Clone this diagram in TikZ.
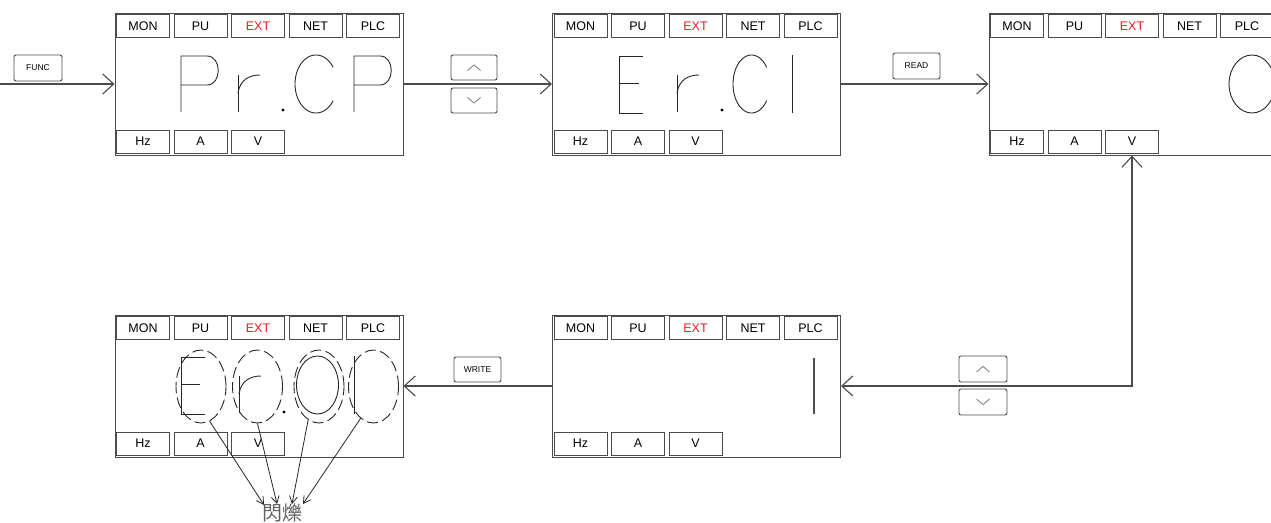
\documentclass[tikz,border=0pt]{standalone}
\usepackage{fontspec}
\setmainfont{Liberation Sans}
\newfontfamily\cjkfont{Noto Sans CJK TC}
\usetikzlibrary{arrows.meta,calc,shapes.geometric}
\definecolor{ln}{RGB}{75,75,75}
\definecolor{extred}{RGB}{237,28,36}
\definecolor{chev}{RGB}{120,120,120}
\definecolor{flashgray}{RGB}{95,95,95}
\tikzset{
  lcd/.style={draw=ln, line width=1pt, minimum width=288pt, minimum height=142pt, inner sep=0pt},
  modebtn/.style={draw=ln, line width=0.9pt, minimum width=53pt, minimum height=23pt, inner sep=0pt, font=\fontsize{12.5}{13}\selectfont},
  keybtn/.style={draw=ln, line width=0.9pt, rounded corners=2pt, minimum width=47pt, minimum height=25pt, inner sep=0pt, font=\fontsize{8.5}{9}\selectfont},
  upkey/.style={keybtn, path picture={\draw[chev, line width=0.8pt, sharp corners] ($(path picture bounding box.center)+(-6.5,3)$) -- ++(6.5,-5.5) -- ++(6.5,5.5);}},
  downkey/.style={keybtn, path picture={\draw[chev, line width=0.8pt, sharp corners] ($(path picture bounding box.center)+(-6.5,-3)$) -- ++(6.5,5.5) -- ++(6.5,-5.5);}},
  glyph/.style={draw=black!85, line width=0.9pt},
  flow/.style={draw=ln, line width=1.1pt},
  bigtip/.tip={Straight Barb[length=11pt,width=20pt]},
  smalltip/.tip={Straight Barb[length=7pt,width=8pt]},
  dashell/.style={ellipse, draw=black!85, line width=0.9pt, dash pattern=on 11pt off 4.5pt, minimum width=50pt, minimum height=73pt, inner sep=0pt},
  pointer/.style={draw=black!85, line width=0.8pt, -smalltip}
}
\newcommand\lcdbox[3]{%
  \node[lcd] (#1) at (#2,#3) {};
  \foreach \lab/\i/\col in {MON/0/black,PU/1/black,EXT/2/extred,NET/3/black,PLC/4/black}{
    \node[modebtn,text=\col] (#1-\lab) at ($(#1.north west)+(28.5+57.5*\i,13.5)$) {\lab};}
  \foreach \lab/\i in {Hz/0,A/1,V/2}{
    \node[modebtn] (#1-\lab) at ($(#1.south west)+(28.5+57.5*\i,-14)$) {\lab};}
}
\begin{document}
\begin{tikzpicture}[x=1pt,y=-1pt]
\useasboundingbox (0,0) rectangle (1271,522);
\clip (0,0) rectangle (1271,522);

% displays
\lcdbox{d1}{259}{84}
\lcdbox{d2}{696.5}{84}
\lcdbox{d3}{1133}{84}
\lcdbox{d4}{696.5}{386}
\lcdbox{d5}{259}{386}

% keys
\node[keybtn, minimum width=48pt, minimum height=26pt] (func) at (38,68) {FUNC};
\node[upkey, minimum width=46pt] (up1) at (474,67.5) {};
\node[downkey, minimum width=46pt] (down1) at (474,100.5) {};
\node[keybtn, minimum height=26pt] (read) at (916.5,66) {READ};
\node[keybtn] (write) at (477.5,369.5) {WRITE};
\node[upkey, minimum width=48pt, minimum height=26pt] (up2) at (983,369) {};
\node[downkey, minimum width=48pt, minimum height=26pt] (down2) at (983,402) {};

% connectors
\coordinate (in) at (0,84);
\draw[flow, -bigtip] (in) -- (d1.west);
\draw[flow, -bigtip] (d1.east) -- (d2.west);
\draw[flow, -bigtip] (d2.east) -- (d3.west);
\draw[flow, bigtip-bigtip] (d3-V |- d3.south) |- (d4.east);
\draw[flow, -bigtip] (d4.west) -- (d5.east);

% display 1: Pr.CP
\draw[glyph] (181,112) -- (181,56) -- (207,56) .. controls (222,56) and (222,85) .. (207,85) -- (181,85);
\draw[glyph] (238,112) -- (238,75);
\draw[glyph] (238,93) .. controls (240,80) and (249,75) .. (260,75);
\fill[black] (283,110) circle (1.7);
\draw[glyph] plot[domain=35:325, samples=60] ({316+21*cos(\x)},{84+29*sin(\x)});
\draw[glyph] (354,112) -- (354,56) -- (380,56) .. controls (395,56) and (395,85) .. (380,85) -- (354,85);

% display 2: Er.Cl
\draw[glyph] (643,56) -- (619,56) -- (619,113) -- (643,113);
\draw[glyph] (619,83) -- (639,83);
\draw[glyph] (677,112) -- (677,75);
\draw[glyph] (677,93) .. controls (679,80) and (688,75) .. (699,75);
\fill[black] (722,110) circle (1.7);
\draw[glyph] plot[domain=35:325, samples=60] ({751.5+18.5*cos(\x)},{84+29*sin(\x)});
\draw[glyph] (792,55) -- (792,113);

% display 3: 0
\draw[glyph] (1252,84) ellipse [x radius=23, y radius=29];

% display 4: 1
\draw[draw=ln, line width=1.1pt] (814,358) -- (814,414);

% display 5: Er.Cl flashing
\draw[glyph] (205,357) -- (181,357) -- (181,414) -- (205,414);
\draw[glyph] (181,384) -- (200,384);
\draw[glyph] (239,413) -- (239,376);
\draw[glyph] (239,394) .. controls (241,381) and (250,376) .. (261,376);
\fill[black] (284,412) circle (1.7);
\draw[glyph] (317.5,385) ellipse [x radius=21, y radius=29];
\draw[glyph] (354,356) -- (354,414);

\node[dashell] (e1) at (201,386.5) {};
\node[dashell] (e2) at (257.5,386.5) {};
\node[dashell] (e3) at (319,386.5) {};
\node[dashell] (e4) at (373.5,386.5) {};

\node[text=flashgray, font=\cjkfont\fontsize{20}{20}\selectfont, inner sep=0pt] (flash) at (282,513) {閃爍};
\coordinate (t1) at (264,505);
\coordinate (t2) at (277,504);
\coordinate (t3) at (292,504);
\coordinate (t4) at (303,504);
\draw[pointer] (e1.-76) -- (t1);
\draw[pointer] (e2.-90) -- (t2);
\draw[pointer] (e3.-108) -- (t3);
\draw[pointer] (e4.-112) -- (t4);
\end{tikzpicture}
\end{document}
